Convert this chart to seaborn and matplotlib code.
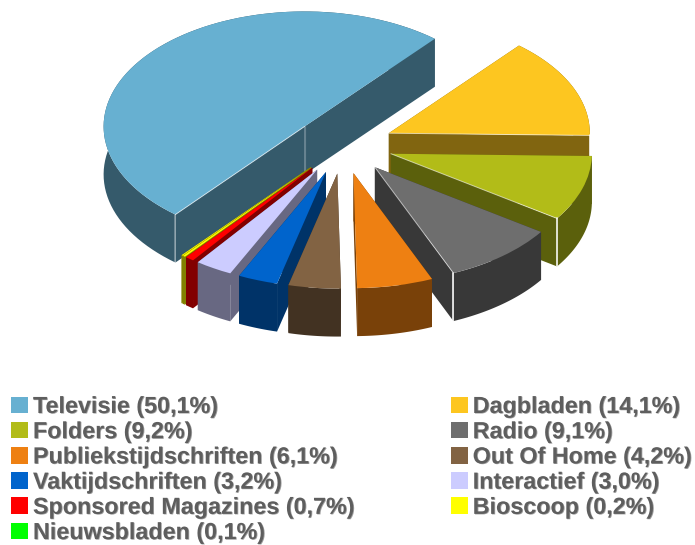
# plot.py - exploded 3D-look media share pie, legend in two columns
import numpy as np
import matplotlib
matplotlib.use('Agg')
import matplotlib.pyplot as plt
import matplotlib.patheffects as pe
from matplotlib.patches import Patch
import seaborn as sns

# -------------------------------
# Data
# -------------------------------
media = ['Televisie', 'Dagbladen', 'Folders', 'Radio', 'Publiekstijdschriften',
         'Out Of Home', 'Vaktijdschriften', 'Interactief', 'Sponsored Magazines',
         'Bioscoop', 'Nieuwsbladen']
share = [50.1, 14.1, 9.2, 9.1, 6.1, 4.2, 3.2, 3.0, 0.7, 0.2, 0.1]
share_labels = ['50,1', '14,1', '9,2', '9,1', '6,1', '4,2', '3,2', '3,0', '0,7', '0,2', '0,1']
hex_colors = ['#67B0D1', '#FDC620', '#B2BC18', '#6E6E6E', '#EE8012', '#826343',
              '#0064CC', '#CCCCFF', '#FF0000', '#FFFF00', '#00FF00']

# pixel geometry of the squashed pie
W, H = 695, 545
CX, CY = 343, 145
RX, RY = 201, 115
DEPTH = 48 / RY

sns.set_theme(style='white')
plt.rcParams['font.family'] = ['Liberation Sans', 'DejaVu Sans']
palette = sns.color_palette(hex_colors)

# the thinnest sliver never shows green in the picture, it merges with Bioscoop
slice_colors = palette[:-1] + [palette[-2]]

fig = plt.figure(figsize=(W / 100, H / 100), dpi=100)
ax = fig.add_axes([0, 0, 1, 1])

wedges, _ = ax.pie(share, colors=slice_colors, explode=[0.25] * len(share),
                   startangle=230, counterclock=False, radius=1.0)
ax.set_aspect('auto')
ax.set_xlim(-CX / RX, (W - CX) / RX)
ax.set_ylim((CY - H) / RY, CY / RY)

# -------------------------------
# Side walls, painted back to front
# -------------------------------
order = sorted(range(len(wedges)), key=lambda i: -wedges[i].center[1])
for rank, i in enumerate(order):
    w = wedges[i]
    cx, cy = w.center
    wall = np.array(slice_colors[i]) * 0.51
    z = 2 + 2 * rank
    w.set_zorder(z + 1)
    w.set_edgecolor('none')

    t = np.radians(np.linspace(w.theta1, w.theta2, 80))
    ax_, ay_ = cx + w.r * np.cos(t), cy + w.r * np.sin(t)
    # arc wall
    ax.fill(np.r_[ax_, ax_[::-1]], np.r_[ay_, ay_[::-1] - DEPTH], color=wall, lw=0, zorder=z)
    # the two cut walls
    for ex, ey in [(ax_[0], ay_[0]), (ax_[-1], ay_[-1])]:
        ax.fill([cx, ex, ex, cx], [cy, ey, ey - DEPTH, cy - DEPTH], color=wall, lw=0, zorder=z)

    # light edges on the big slices
    if i < 4:
        k = 0 if ay_[0] < ay_[-1] else -1
        strength = 0.35 if i == 0 else 0.95
        ax.plot([ax_[k], ax_[k]], [ay_[k], ay_[k] - DEPTH], color='white', alpha=strength,
                lw=1.2, zorder=z + 1)
        ax.plot([cx, ax_[k]], [cy, ay_[k]], color='white', alpha=0.6, lw=0.7, zorder=z + 1)
    if i == 0:
        ax.plot([cx, cx], [cy, cy - DEPTH], color='white', alpha=0.25, lw=0.8, zorder=z + 1)

# -------------------------------
# Legend: matplotlib fills column by column
# -------------------------------
labels = [f'{m} ({s}%)' for m, s in zip(media, share_labels)]
left = list(range(0, len(media), 2))
right = list(range(1, len(media), 2))
idx = left + right
leg = ax.legend([Patch(color=palette[i], lw=0) for i in idx], [labels[i] for i in idx],
                ncol=2, loc='upper left', bbox_to_anchor=(11 / W, 1 - 395 / H),
                bbox_transform=fig.transFigure, frameon=False, borderaxespad=0, borderpad=0,
                prop={'family': 'Liberation Sans', 'weight': 'bold', 'size': 16.8},
                handlelength=0.72, handleheight=0.72, handletextpad=0.22,
                labelspacing=0.095, columnspacing=4.1, labelcolor='#5E5E5E')
for txt in leg.get_texts():
    txt.set_path_effects([pe.withSimplePatchShadow(offset=(0.6, -0.4), shadow_rgbFace='#A0A0A0',
                                                   alpha=1.0)])

fig.savefig('out.png', dpi=100)
